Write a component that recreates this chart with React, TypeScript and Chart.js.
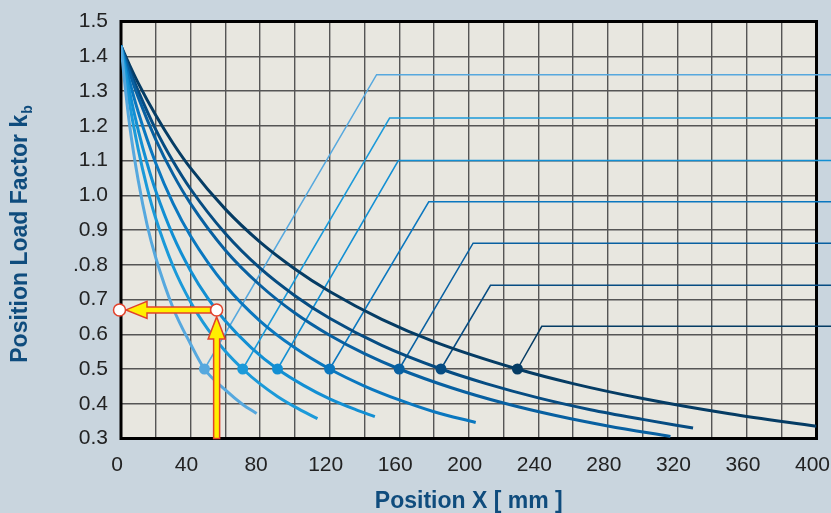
import { useEffect, useRef } from 'react';
import { Chart, registerables } from 'chart.js';

Chart.register(...registerables);

// ---- data ----
const c1X = [0, 2, 5, 10, 15, 20, 30, 40, 48, 60, 70, 78];
const c1Y = [1.43, 1.33, 1.2, 1.04, 0.915, 0.82, 0.675, 0.572, 0.5, 0.44, 0.398, 0.372];
const c2X = [0, 5, 10, 15, 20, 30, 40, 50, 60, 70, 80, 90, 100, 113];
const c2Y = [1.43, 1.262, 1.13, 1.022, 0.933, 0.795, 0.693, 0.614, 0.551, 0.5, 0.457, 0.421, 0.391, 0.357];
const c3X = [0, 5, 10, 15, 20, 30, 40, 50, 60, 75, 90, 105, 120, 135, 146];
const c3Y = [1.43, 1.296, 1.185, 1.092, 1.012, 0.883, 0.783, 0.703, 0.638, 0.561, 0.5, 0.453, 0.414, 0.383, 0.363];
const c4X = [0, 5, 10, 20, 30, 40, 60, 80, 100, 120, 140, 160, 180, 204];
const c4Y = [1.43, 1.327, 1.238, 1.092, 0.976, 0.883, 0.741, 0.638, 0.561, 0.5, 0.451, 0.411, 0.377, 0.346];
const c5X = [0, 5, 10, 20, 30, 40, 60, 80, 100, 120, 140, 160, 190, 220, 250, 280, 316];
const c5Y = [1.43, 1.352, 1.281, 1.16, 1.06, 0.976, 0.842, 0.741, 0.661, 0.597, 0.544, 0.5, 0.446, 0.402, 0.366, 0.336, 0.306];
const c6X = [0, 5, 10, 20, 30, 40, 60, 80, 100, 120, 150, 184, 210, 240, 270, 300, 329];
const c6Y = [1.43, 1.361, 1.299, 1.189, 1.097, 1.018, 0.89, 0.79, 0.711, 0.646, 0.568, 0.5, 0.458, 0.417, 0.383, 0.355, 0.33];
const c7X = [0, 5, 10, 20, 30, 40, 60, 80, 100, 120, 150, 180, 228, 260, 300, 350, 400];
const c7Y = [1.43, 1.374, 1.322, 1.23, 1.149, 1.078, 0.96, 0.865, 0.788, 0.723, 0.643, 0.579, 0.5, 0.458, 0.415, 0.371, 0.335];

const markerX = [48, 70, 90, 120, 160, 184, 228];
const markerY = [0.5, 0.5, 0.5, 0.5, 0.5, 0.5, 0.5];
const elbowX = [147, 154.5, 159.5, 177, 202.5, 212.5, 242];
const elbowY = [1.347, 1.222, 1.1, 0.981, 0.862, 0.741, 0.623];
const leaderEndX = 415;

const readX = [55];
const readY = [0.67];

const xMin = 0, xMax = 400, xStep = 20, xLabelStep = 40;
const yMin = 0.3, yMax = 1.5, yStep = 0.1;
const yTickLabels: Record<string, string> = {
  '0.3': '0.3', '0.4': '0.4', '0.5': '0.5', '0.6': '0.6', '0.7': '0.7', '0.8': '.0.8',
  '0.9': '0.9', '1.0': '1.0', '1.1': '1.1', '1.2': '1.2', '1.3': '1.3', '1.4': '1.4', '1.5': '1.5',
};

const curveColors = ['#56a8de', '#1b9ad9', '#128fd3', '#0a77bf', '#0860a1', '#064c82', '#053c64'];
const curves = [[c1X, c1Y], [c2X, c2Y], [c3X, c3Y], [c4X, c4Y], [c5X, c5Y], [c6X, c6Y], [c7X, c7Y]];

const FONT = "'Liberation Sans', Arial, sans-serif";
const TITLE_COLOR = '#0f4c7d';

export default function App() {
  const ref = useRef<HTMLCanvasElement | null>(null);

  useEffect(() => {
    document.body.style.margin = '0';
    const canvas = ref.current;
    if (!canvas) return;

    const datasets: any[] = [];
    // markers
    datasets.push({
      type: 'line',
      data: markerX.map((x, i) => ({ x, y: markerY[i] })),
      showLine: false,
      pointRadius: 5.5,
      pointBorderWidth: 0,
      pointBackgroundColor: curveColors,
      order: 0,
    });
    // curves
    curves.forEach(([xs, ys], i) => {
      datasets.push({
        type: 'line',
        data: xs.map((x, j) => ({ x, y: ys[j] })),
        borderColor: curveColors[i],
        borderWidth: 3,
        pointRadius: 0,
        cubicInterpolationMode: 'monotone',
        fill: false,
        order: 1,
      });
    });
    // leader lines
    markerX.forEach((mx, i) => {
      datasets.push({
        type: 'line',
        data: [
          { x: mx, y: markerY[i] },
          { x: elbowX[i], y: elbowY[i] },
          { x: leaderEndX, y: elbowY[i] },
        ],
        borderColor: curveColors[i],
        borderWidth: 1.5,
        pointRadius: 0,
        tension: 0,
        clip: false,
        fill: false,
        order: 2,
      });
    });

    const bgPlugin = {
      id: 'bg',
      beforeDraw(chart: any) {
        const { ctx, chartArea: a } = chart;
        ctx.save();
        ctx.fillStyle = '#e8e7e0';
        ctx.fillRect(a.left, a.top, a.right - a.left, a.bottom - a.top);
        ctx.restore();
      },
    };
    const borderPlugin = {
      id: 'frame',
      beforeDatasetsDraw(chart: any) {
        const { ctx, chartArea: a } = chart;
        ctx.save();
        ctx.strokeStyle = '#000';
        ctx.lineWidth = 3;
        ctx.strokeRect(a.left, a.top, a.right - a.left, a.bottom - a.top);
        ctx.restore();
      },
    };
    const arrowPlugin = {
      id: 'arrows',
      afterDatasetsDraw(chart: any) {
        const { ctx } = chart;
        const xs = chart.scales.x, ys = chart.scales.y;
        const px = xs.getPixelForValue(readX[0]);
        const py = ys.getPixelForValue(readY[0]);
        const bottom = ys.getPixelForValue(yMin);
        const left = xs.getPixelForValue(xMin) - 1.5;
        const r = 6;
        ctx.save();
        ctx.fillStyle = '#fff000';
        ctx.strokeStyle = '#e2412b';
        ctx.lineWidth = 1.5;
        ctx.lineJoin = 'miter';
        // vertical arrow
        const tipV = py + r + 1;
        const hl = 22, hw = 8.5, sw = 3;
        ctx.beginPath();
        ctx.moveTo(px - sw, bottom);
        ctx.lineTo(px - sw, tipV + hl);
        ctx.lineTo(px - hw, tipV + hl);
        ctx.lineTo(px, tipV);
        ctx.lineTo(px + hw, tipV + hl);
        ctx.lineTo(px + sw, tipV + hl);
        ctx.lineTo(px + sw, bottom);
        ctx.closePath();
        ctx.fill();
        ctx.stroke();
        // horizontal arrow
        const tipH = left + r + 0.5;
        const startH = px - r;
        ctx.beginPath();
        ctx.moveTo(startH, py - sw);
        ctx.lineTo(tipH + 21, py - sw);
        ctx.lineTo(tipH + 21, py - hw);
        ctx.lineTo(tipH, py);
        ctx.lineTo(tipH + 21, py + hw);
        ctx.lineTo(tipH + 21, py + sw);
        ctx.lineTo(startH, py + sw);
        ctx.closePath();
        ctx.fill();
        ctx.stroke();
        // circles
        ctx.fillStyle = '#ffffff';
        [[px, py], [left, py]].forEach(([cx, cy]) => {
          ctx.beginPath();
          ctx.arc(cx, cy, r, 0, Math.PI * 2);
          ctx.fill();
          ctx.stroke();
        });
        ctx.restore();
      },
    };
    const titlePlugin = {
      id: 'titles',
      afterDraw(chart: any) {
        const { ctx, chartArea: a } = chart;
        ctx.save();
        ctx.fillStyle = TITLE_COLOR;
        ctx.font = `bold 23px ${FONT}`;
        ctx.textAlign = 'center';
        ctx.textBaseline = 'alphabetic';
        ctx.fillText('Position X [ mm ]', (a.left + a.right) / 2, 508);
        // y title with subscript
        const main = 'Position Load Factor k';
        const w = ctx.measureText(main).width;
        ctx.font = `bold 14px ${FONT}`;
        const ws = ctx.measureText('b').width;
        const total = w + 1 + ws;
        const cy = (a.top + a.bottom) / 2 + 4;
        ctx.translate(26.5, cy + total / 2);
        ctx.rotate(-Math.PI / 2);
        ctx.textAlign = 'left';
        ctx.font = `bold 23px ${FONT}`;
        ctx.fillText(main, 0, 0);
        ctx.font = `bold 14px ${FONT}`;
        ctx.fillText('b', w + 1, 5);
        ctx.restore();
      },
    };

    const chart = new Chart(canvas, {
      type: 'line',
      data: { datasets },
      options: {
        animation: false,
        responsive: true,
        maintainAspectRatio: false,
        layout: { padding: { left: 0, right: 14.5, top: 21.5, bottom: 0 } },
        plugins: { legend: { display: false }, tooltip: { enabled: false } },
        scales: {
          x: {
            type: 'linear',
            min: xMin,
            max: xMax,
            grid: { color: '#555555', lineWidth: 1.4, drawTicks: false },
            border: { display: false },
            ticks: {
              stepSize: xStep,
              autoSkip: false,
              maxRotation: 0,
              padding: 14,
              labelOffset: -4,
              color: '#222',
              font: { family: FONT, size: 21 },
              callback: (v: any) => (Number(v) % xLabelStep === 0 ? String(v) : ''),
            },
            afterFit: (s: any) => {
              s.height = 74.5;
              s.paddingLeft = 0;
              s.paddingRight = 0;
            },
          },
          y: {
            type: 'linear',
            min: yMin,
            max: yMax,
            grid: { color: '#555555', lineWidth: 1.4, drawTicks: false },
            border: { display: false },
            ticks: {
              stepSize: yStep,
              autoSkip: false,
              padding: 13,
              color: '#222',
              font: { family: FONT, size: 21 },
              callback: (v: any) => yTickLabels[(Math.round(Number(v) * 10) / 10).toFixed(1)] ?? '',
            },
            afterFit: (s: any) => {
              s.width = 121;
              s.paddingTop = 0;
              s.paddingBottom = 0;
            },
          },
        },
      } as any,
      plugins: [bgPlugin, borderPlugin, arrowPlugin, titlePlugin],
    });
    return () => chart.destroy();
  }, []);

  return (
    <div style={{ position: 'fixed', left: 0, top: 0, width: 831, height: 513, background: '#c9d5de' }}>
      <canvas ref={ref} />
    </div>
  );
}
